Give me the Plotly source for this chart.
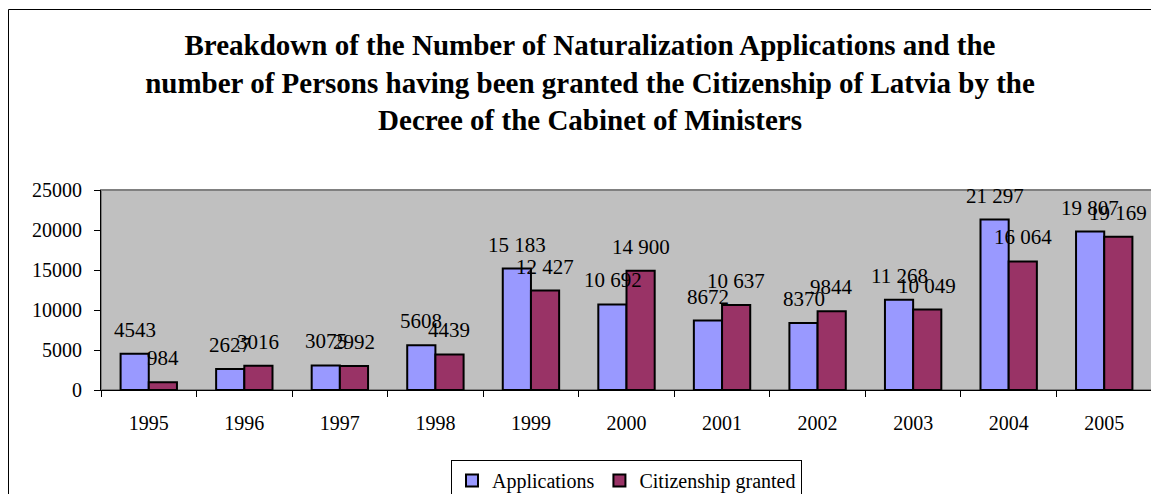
import plotly.graph_objects as go

years = ["1995", "1996", "1997", "1998", "1999", "2000", "2001", "2002", "2003", "2004", "2005"]
applications = [4543, 2627, 3075, 5608, 15183, 10692, 8672, 8370, 11268, 21297, 19807]
granted = [984, 3016, 2992, 4439, 12427, 14900, 10637, 9844, 10049, 16064, 19169]

def fmt(v):
    # Excel style: thousands split by a space only for 5-digit numbers
    return f"{v:,}".replace(",", " ") if v >= 10000 else str(v)

FONT = "Liberation Serif, Times New Roman, serif"
# the page body keeps its default 8px margin, so the figure sits 8px in
W, H = 1151, 486
L, R, T, B = 93, 7, 182, 104

fig = go.Figure()

fig.add_trace(go.Bar(
    x=years, y=applications, name="Applications",
    marker=dict(color="#9999FF", line=dict(color="black", width=2)),
))

fig.add_trace(go.Bar(
    x=years, y=granted, name="Citizenship granted",
    marker=dict(color="#993366", line=dict(color="black", width=2)),
))

# data labels sit a little higher than plotly's own outside text
# (category axis: annotation x is the category index)
labels = []
for series, shift in [(applications, -14), (granted, 14)]:
    for i, v in enumerate(series):
        labels.append(dict(
            x=i, y=v, text=fmt(v), showarrow=False,
            xshift=shift, yshift=24, yanchor="middle",
            font=dict(family=FONT, size=21, color="black"),
        ))

pw = W - L - R
ph = H - T - B

fig.update_layout(
    width=W, height=H,
    margin=dict(l=L, r=R, t=T, b=B, autoexpand=False),
    paper_bgcolor="white", plot_bgcolor="#C0C0C0",
    font=dict(family=FONT, size=20, color="black"),
    title=dict(
        text="<b>Breakdown of the Number of Naturalization Applications and the<br>"
             "number of Persons having been granted the Citizenship of Latvia by the<br>"
             "Decree of the Cabinet of Ministers</b>",
        x=582 / W, xanchor="center", xref="container",
        y=1 - 47 / H, yanchor="top", yref="container",
        font=dict(family=FONT, size=29, color="black"),
    ),
    barmode="group", bargap=0.41, bargroupgap=0,
    showlegend=True,
    legend=dict(
        orientation="h", x=0.5, xanchor="center", y=(T + ph - 452) / ph, yanchor="top",
        bordercolor="black", borderwidth=1, bgcolor="white",
        font=dict(family=FONT, size=20, color="black"),
        itemclick=False, traceorder="normal", itemwidth=30,
    ),
    annotations=labels,
    shapes=[
        # outer chart border (right and bottom run off the picture)
        dict(type="rect", xref="paper", yref="paper",
             x0=(0.5 - L) / pw, x1=(W + 5 - L) / pw,
             y0=(T + ph - (H + 5)) / ph, y1=(T + ph - 1.5) / ph,
             line=dict(color="black", width=1), layer="below"),
        # plot area frame
        dict(type="rect", xref="paper", yref="paper", x0=0, x1=1, y0=0, y1=1,
             line=dict(color="#808080", width=2), layer="below"),
    ],
)

fig.update_xaxes(
    type="category", range=[-0.5, len(years) - 0.5],
    showline=True, linecolor="black", linewidth=1,
    ticks="outside", tickson="boundaries", ticklen=6, tickcolor="black",
    showgrid=False, tickfont=dict(family=FONT, size=20), ticklabelstandoff=15,
)
fig.update_yaxes(
    range=[0, 25000], dtick=5000, tickformat="d",
    showline=True, linecolor="black", linewidth=1,
    ticks="outside", ticklen=6, tickcolor="black",
    showgrid=False, zeroline=False, tickfont=dict(family=FONT, size=20),
    ticklabelstandoff=8,
)

fig.write_html("out.html")
